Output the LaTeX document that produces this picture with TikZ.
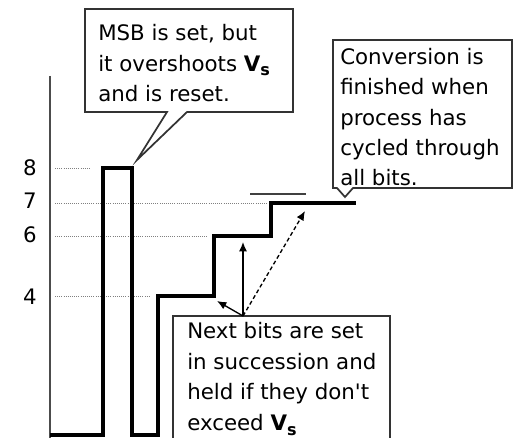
\documentclass[tikz,border=0pt]{standalone}
\usepackage{fontspec}
\setmainfont{DejaVu Sans}
\usetikzlibrary{arrows.meta}
\newcommand{\vsym}{\textbf{V}\raisebox{-3.5pt}{\bfseries\fontsize{12}{12}\selectfont s}}
\begin{document}
\begin{tikzpicture}[x=0.75pt,y=-0.75pt,
  signal/.style={line width=3pt,line join=miter},
  guide/.style={gray,densely dotted,line width=0.6pt},
  boxline/.style={draw=black!80,line width=1.3pt,fill=white,line join=miter},
  note/.style={font=\fontsize{16}{23}\selectfont,align=left,inner sep=0pt,anchor=north west},
  lbl/.style={font=\fontsize{16}{19}\selectfont,inner sep=0pt},
  ptr/.style={line width=1pt,-{Latex[length=7pt,width=6pt]}}]
\useasboundingbox (0,0) rectangle (514,438);
% axis
\draw[black!70,line width=1.3pt] (50,76) -- (50,438);
% guides
\draw[guide] (55,168) -- (90,168);
\draw[guide] (55,203) -- (268,203);
\draw[guide] (55,236) -- (207,236);
\draw[guide] (55,296) -- (150,296);
% level labels
\node[lbl] (l8) at (30,168) {8};
\node[lbl] (l7) at (30,201) {7};
\node[lbl] (l6) at (30,235) {6};
\node[lbl] (l4) at (30,297) {4};
% signal
\draw[signal] (50,435) -- (103,435) -- (103,168) -- (132,168) -- (132,435) -- (158,435)
  -- (158,296) -- (214,296) -- (214,236) -- (271,236) -- (271,203) -- (356,203);
% Vs level mark
\draw[black!75,line width=1.3pt] (250,194) -- (306,194);
% MSB box
\draw[boxline] (85,9) -- (293,9) -- (293,112) -- (187,112) -- (137,160) -- (167,112) -- (85,112) -- cycle;
\node[note] (msb) at (98,24) {MSB is set, but\\it overshoots \vsym\\and is reset.};
% Conversion box
\draw[boxline] (333,40) -- (512,40) -- (512,188) -- (353,188) -- (345,197) -- (337,188) -- (333,188) -- cycle;
\node[note,font=\fontsize{16}{22.7}\selectfont] (conv) at (340,48) {Conversion is\\finished when\\process has\\cycled through\\all bits.};
% Next bits box
\draw[boxline,fill=none] (173,440) -- (173,316) -- (390,316) -- (390,440);
\node[note] (next) at (187,322) {Next bits are set\\in succession and\\held if they don\textquotesingle t\\exceed \vsym};
% arrows
\coordinate (src) at (243,316);
\coordinate (t4) at (217,301);
\coordinate (t6) at (243,242);
\coordinate (t7) at (305,211);
\draw[ptr] (src) -- (t4);
\draw[ptr] (src) -- (t6);
\draw[ptr,densely dashed] (src) -- (t7);
\end{tikzpicture}
\end{document}
